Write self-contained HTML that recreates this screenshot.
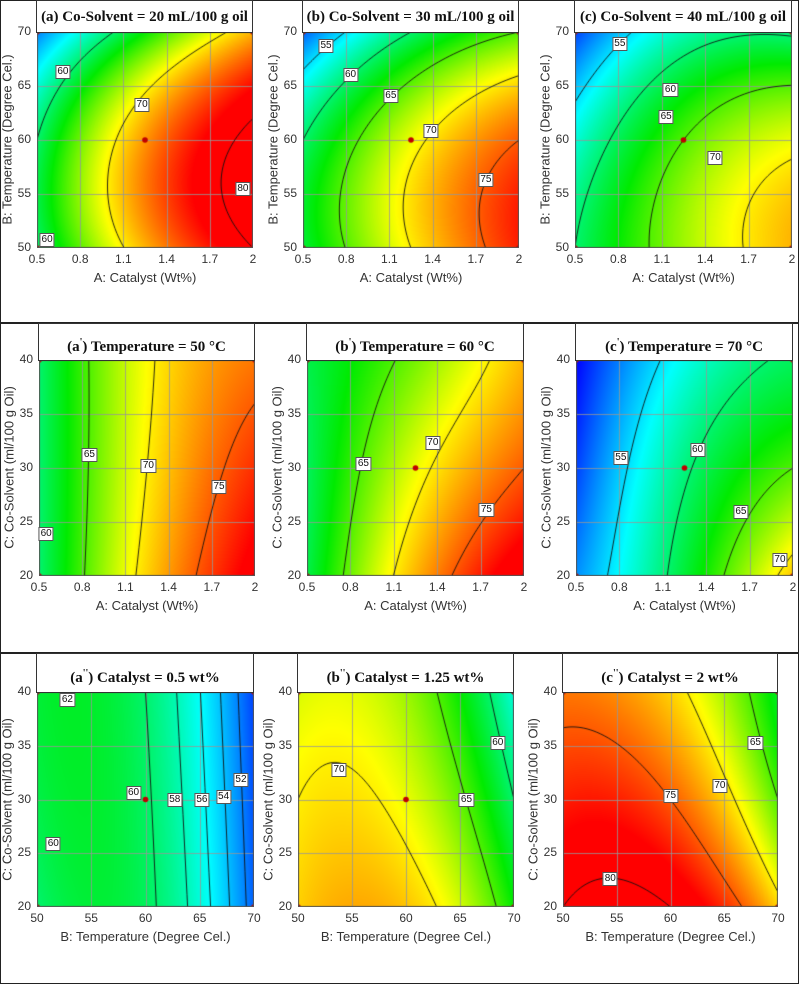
<!DOCTYPE html>
<html><head><meta charset="utf-8">
<style>
html,body{margin:0;padding:0;background:#fff;}
#root{position:relative;width:800px;height:984px;overflow:hidden;font-family:"Liberation Sans",sans-serif;}
.frame{position:absolute;border:1px solid #222;box-sizing:border-box;}
.title{position:absolute;background:#fff;border:1px solid #333;box-sizing:border-box;font-family:"Liberation Serif",serif;font-weight:bold;font-size:15px;text-align:center;color:#111;}
.title sup{font-size:10px;}
canvas{position:absolute;}
.tick{position:absolute;font-size:12px;color:#333;}
.axt{position:absolute;font-size:13px;color:#333;white-space:nowrap;}
.lbl{position:absolute;font-size:10px;background:#fff;border:1px solid #555;padding:0 1px;line-height:12px;color:#111;transform:translate(-50%,-50%);}
</style></head>
<body>
<div id="root">
<div class="frame" style="left:0;top:0;width:799px;height:324px"></div>
<div class="frame" style="left:0;top:322px;width:799px;height:332px"></div>
<div class="frame" style="left:0;top:652px;width:799px;height:332px"></div>
</div>
<script>
// ---- data ----
const catalystTicks=[0.5,0.8,1.1,1.4,1.7,2];
const tempTicks=[50,55,60,65,70];
const cosolTicks=[20,25,30,35,40];
// 3x3 grid values: rows = [top, mid, bottom], cols = [low, mid, high]
const gridA=[[52,63,72],[60,73,81],[60,72,80]];
const gridB=[[51,60,65],[60,69,75],[61.5,70,77]];
const gridC=[[50,58,59.5],[57,65,69],[60,67,72]];
const gridA1=[[60,69.5,74],[60,70,76.5],[60,71,79]];
const gridB1=[[61,66,72],[60.5,69,75],[61,72,80]];
const gridC1=[[48,56.5,60.5],[50,59.5,65],[52.5,61.5,71.5]];
const gridA2=[[61.5,60,50],[61,60.3,50.5],[60,60.5,51]];
const gridB2=[[68.5,67,57],[70,69,60],[71,71.5,63]];
const gridC2=[[74,71,62],[77,75,65],[80,80,71]];
const levelsA=[60,70,80],levelsB=[55,60,65,70,75],levelsC=[55,60,65,70];
const levelsA1=[60,65,70,75],levelsB1=[65,70,75],levelsC1=[55,60,65,70];
const levelsA2=[52,54,56,58,60,62],levelsB2=[60,65,70],levelsC2=[65,70,75,80];
const labelsA=[[0.68,66.3,'60'],[1.23,63.2,'70'],[1.93,55.5,'80'],[0.57,50.7,'60']];
const labelsB=[[0.66,68.7,'55'],[0.83,66,'60'],[1.11,64.1,'65'],[1.39,60.8,'70'],[1.77,56.3,'75']];
const labelsC=[[0.81,68.9,'55'],[1.16,64.6,'60'],[1.13,62.1,'65'],[1.47,58.3,'70']];
const labelsA1=[[0.85,31.2,'65'],[1.26,30.2,'70'],[1.75,28.2,'75'],[0.55,23.9,'60']];
const labelsB1=[[0.89,30.4,'65'],[1.37,32.3,'70'],[1.74,26.1,'75']];
const labelsC1=[[0.81,30.9,'55'],[1.34,31.7,'60'],[1.64,25.9,'65'],[1.91,21.5,'70']];
const labelsA2=[[52.8,39.3,'62'],[58.9,30.6,'60'],[62.7,30,'58'],[65.2,30,'56'],[67.2,30.2,'54'],[68.8,31.8,'52'],[51.5,25.9,'60']];
const labelsB2=[[53.8,32.7,'70'],[65.6,30,'65'],[68.5,35.3,'60']];
const labelsC2=[[54.4,22.6,'80'],[60,30.3,'75'],[64.6,31.3,'70'],[67.9,35.3,'65']];

const panels=[
 {id:'a',title:'(a) Co-Solvent = 20 mL/100 g oil',x0:37,x1:253,y0:32,y1:248,bt:0,xt:catalystTicks,yt:tempTicks,xl:'A: Catalyst (Wt%)',yl:'B: Temperature (Degree Cel.)',g:gridA,lv:levelsA,lb:labelsA},
 {id:'b',title:'(b) Co-Solvent = 30 mL/100 g oil',x0:303,x1:519,y0:32,y1:248,bt:0,xt:catalystTicks,yt:tempTicks,xl:'A: Catalyst (Wt%)',yl:'B: Temperature (Degree Cel.)',g:gridB,lv:levelsB,lb:labelsB},
 {id:'c',title:'(c) Co-Solvent = 40 mL/100 g oil',x0:575,x1:792,y0:32,y1:248,bt:0,xt:catalystTicks,yt:tempTicks,xl:'A: Catalyst (Wt%)',yl:'B: Temperature (Degree Cel.)',g:gridC,lv:levelsC,lb:labelsC},
 {id:'a1',title:'(a<sup>\'</sup>) Temperature = 50 °C',x0:39,x1:255,y0:360,y1:576,bt:323,xt:catalystTicks,yt:cosolTicks,xl:'A: Catalyst (Wt%)',yl:'C: Co-Solvent (ml/100 g Oil)',g:gridA1,lv:levelsA1,lb:labelsA1},
 {id:'b1',title:'(b<sup>\'</sup>) Temperature = 60 °C',x0:307,x1:524,y0:360,y1:576,bt:323,xt:catalystTicks,yt:cosolTicks,xl:'A: Catalyst (Wt%)',yl:'C: Co-Solvent (ml/100 g Oil)',g:gridB1,lv:levelsB1,lb:labelsB1},
 {id:'c1',title:'(c<sup>\'</sup>) Temperature = 70 °C',x0:576,x1:793,y0:360,y1:576,bt:323,xt:catalystTicks,yt:cosolTicks,xl:'A: Catalyst (Wt%)',yl:'C: Co-Solvent (ml/100 g Oil)',g:gridC1,lv:levelsC1,lb:labelsC1},
 {id:'a2',title:'(a<sup>\'\'</sup>) Catalyst = 0.5 wt%',x0:37,x1:254,y0:692,y1:907,bt:653,xt:tempTicks,yt:cosolTicks,xl:'B: Temperature (Degree Cel.)',yl:'C: Co-Solvent (ml/100 g Oil)',g:gridA2,lv:levelsA2,lb:labelsA2},
 {id:'b2',title:'(b<sup>\'\'</sup>) Catalyst = 1.25 wt%',x0:298,x1:514,y0:692,y1:907,bt:653,xt:tempTicks,yt:cosolTicks,xl:'B: Temperature (Degree Cel.)',yl:'C: Co-Solvent (ml/100 g Oil)',g:gridB2,lv:levelsB2,lb:labelsB2},
 {id:'c2',title:'(c<sup>\'\'</sup>) Catalyst = 2 wt%',x0:563,x1:778,y0:692,y1:907,bt:653,xt:tempTicks,yt:cosolTicks,xl:'B: Temperature (Degree Cel.)',yl:'C: Co-Solvent (ml/100 g Oil)',g:gridC2,lv:levelsC2,lb:labelsC2}
];
const stops=[[48,[0,0,255]],[56,[0,255,255]],[63,[0,235,0]],[69.5,[255,255,0]],[78,[255,0,0]]];
function color(v){
 if(v<=stops[0][0])return stops[0][1];
 for(let i=1;i<stops.length;i++){if(v<=stops[i][0]){const a=stops[i-1],b=stops[i];const t=(v-a[0])/(b[0]-a[0]);return a[1].map((c,k)=>c+(b[1][k]-c)*t);}}
 return stops[stops.length-1][1];
}
function L(t){return [t*(t-1)/2,1-t*t,t*(t+1)/2];}
function model(g,u,v){ // u,v in [-1,1], v=1 top
 const lu=L(u),lv=L(v);const rows=[g[2],g[1],g[0]];let s=0;
 for(let j=0;j<3;j++)for(let i=0;i<3;i++)s+=lv[j]*lu[i]*rows[j][i];return s;
}
const root=document.getElementById('root');
panels.forEach(p=>{
 const W=p.x1-p.x0,H=p.y1-p.y0;
 const xmin=p.xt[0],xmax=p.xt[p.xt.length-1],ymin=p.yt[0],ymax=p.yt[p.yt.length-1];
 const sx=x=>(x-xmin)/(xmax-xmin)*W, sy=y=>H-(y-ymin)/(ymax-ymin)*H;
 const f=(px,py)=>model(p.g,px/W*2-1,1-py/H*2);
 const cv=document.createElement('canvas');
 
 
 cv.width=W;cv.height=H;cv.style.left=p.x0+'px';cv.style.top=p.y0+'px';
 root.appendChild(cv);
 const ctx=cv.getContext('2d');const im=ctx.createImageData(W,H);
 for(let y=0;y<H;y++)for(let x=0;x<W;x++){const c=color(f(x+0.5,y+0.5));const k=(y*W+x)*4;im.data[k]=c[0];im.data[k+1]=c[1];im.data[k+2]=c[2];im.data[k+3]=255;}
 ctx.putImageData(im,0,0);
 ctx.strokeStyle='rgba(150,150,150,0.8)';ctx.lineWidth=1;
 p.xt.forEach(t=>{const x=Math.round(sx(t))+0.5;ctx.beginPath();ctx.moveTo(x,0);ctx.lineTo(x,H);ctx.stroke();});
 p.yt.forEach(t=>{const y=Math.round(sy(t))+0.5;ctx.beginPath();ctx.moveTo(0,y);ctx.lineTo(W,y);ctx.stroke();});
 ctx.strokeStyle='#111';ctx.lineWidth=0.9;const st=2;
 p.lv.forEach(lv=>{
  ctx.beginPath();
  for(let y=0;y<H;y+=st)for(let x=0;x<W;x+=st){
   const c=[[x,y],[x+st,y],[x+st,y+st],[x,y+st]];const vals=c.map(q=>f(q[0],q[1])-lv);
   const pts=[];
   for(let e=0;e<4;e++){const a=vals[e],b=vals[(e+1)%4];if((a<0)!==(b<0)){const t=a/(a-b);const A=c[e],B=c[(e+1)%4];pts.push([A[0]+(B[0]-A[0])*t,A[1]+(B[1]-A[1])*t]);}}
   for(let k=0;k+1<pts.length;k+=2){ctx.moveTo(pts[k][0],pts[k][1]);ctx.lineTo(pts[k+1][0],pts[k+1][1]);}
  }
  ctx.stroke();
 });
 ctx.fillStyle='#c00000';
 [[0,0],[W,0],[0,H],[W,H],[W/2,H/2]].forEach(q=>{ctx.beginPath();ctx.arc(q[0],q[1],2.8,0,7);ctx.fill();});
 ctx.strokeStyle='#555';ctx.lineWidth=1;ctx.strokeRect(0.5,0.5,W-1,H-1);
 const t=document.createElement('div');t.className='title';
 
 
 t.style.left=(p.x0-1)+'px';t.style.top=p.bt+'px';t.style.width=(W+1)+'px';t.style.height=(p.y0-p.bt+1)+'px';t.style.lineHeight=(p.y0-p.bt)+'px';t.innerHTML=p.title;root.appendChild(t);
 p.xt.forEach(v=>{const d=document.createElement('div');d.className='tick';
  
  
  d.textContent=v;d.style.left=(p.x0+sx(v)-15)+'px';d.style.width='30px';d.style.textAlign='center';d.style.top=(p.y1+4)+'px';root.appendChild(d);});
 p.yt.forEach(v=>{const d=document.createElement('div');d.className='tick';
  
  
  d.textContent=v;d.style.left=(p.x0-34)+'px';d.style.width='28px';d.style.textAlign='right';d.style.top=(p.y0+sy(v)-8)+'px';root.appendChild(d);});
 const xl=document.createElement('div');xl.className='axt';
 
 
 xl.textContent=p.xl;xl.style.left=p.x0+'px';xl.style.width=W+'px';xl.style.textAlign='center';xl.style.top=(p.y1+22)+'px';root.appendChild(xl);
 const yl=document.createElement('div');yl.className='axt';
 
 
 yl.textContent=p.yl;yl.style.width='240px';yl.style.textAlign='center';yl.style.left=(p.x0-30-120)+'px';yl.style.top=(p.y0+H/2-8)+'px';yl.style.transform='rotate(-90deg)';root.appendChild(yl);
 p.lb.forEach(l=>{const d=document.createElement('div');d.className='lbl';
  
  
  d.textContent=l[2];d.style.left=(p.x0+sx(l[0]))+'px';d.style.top=(p.y0+sy(l[1]))+'px';root.appendChild(d);});
});
</script>
</body></html>
